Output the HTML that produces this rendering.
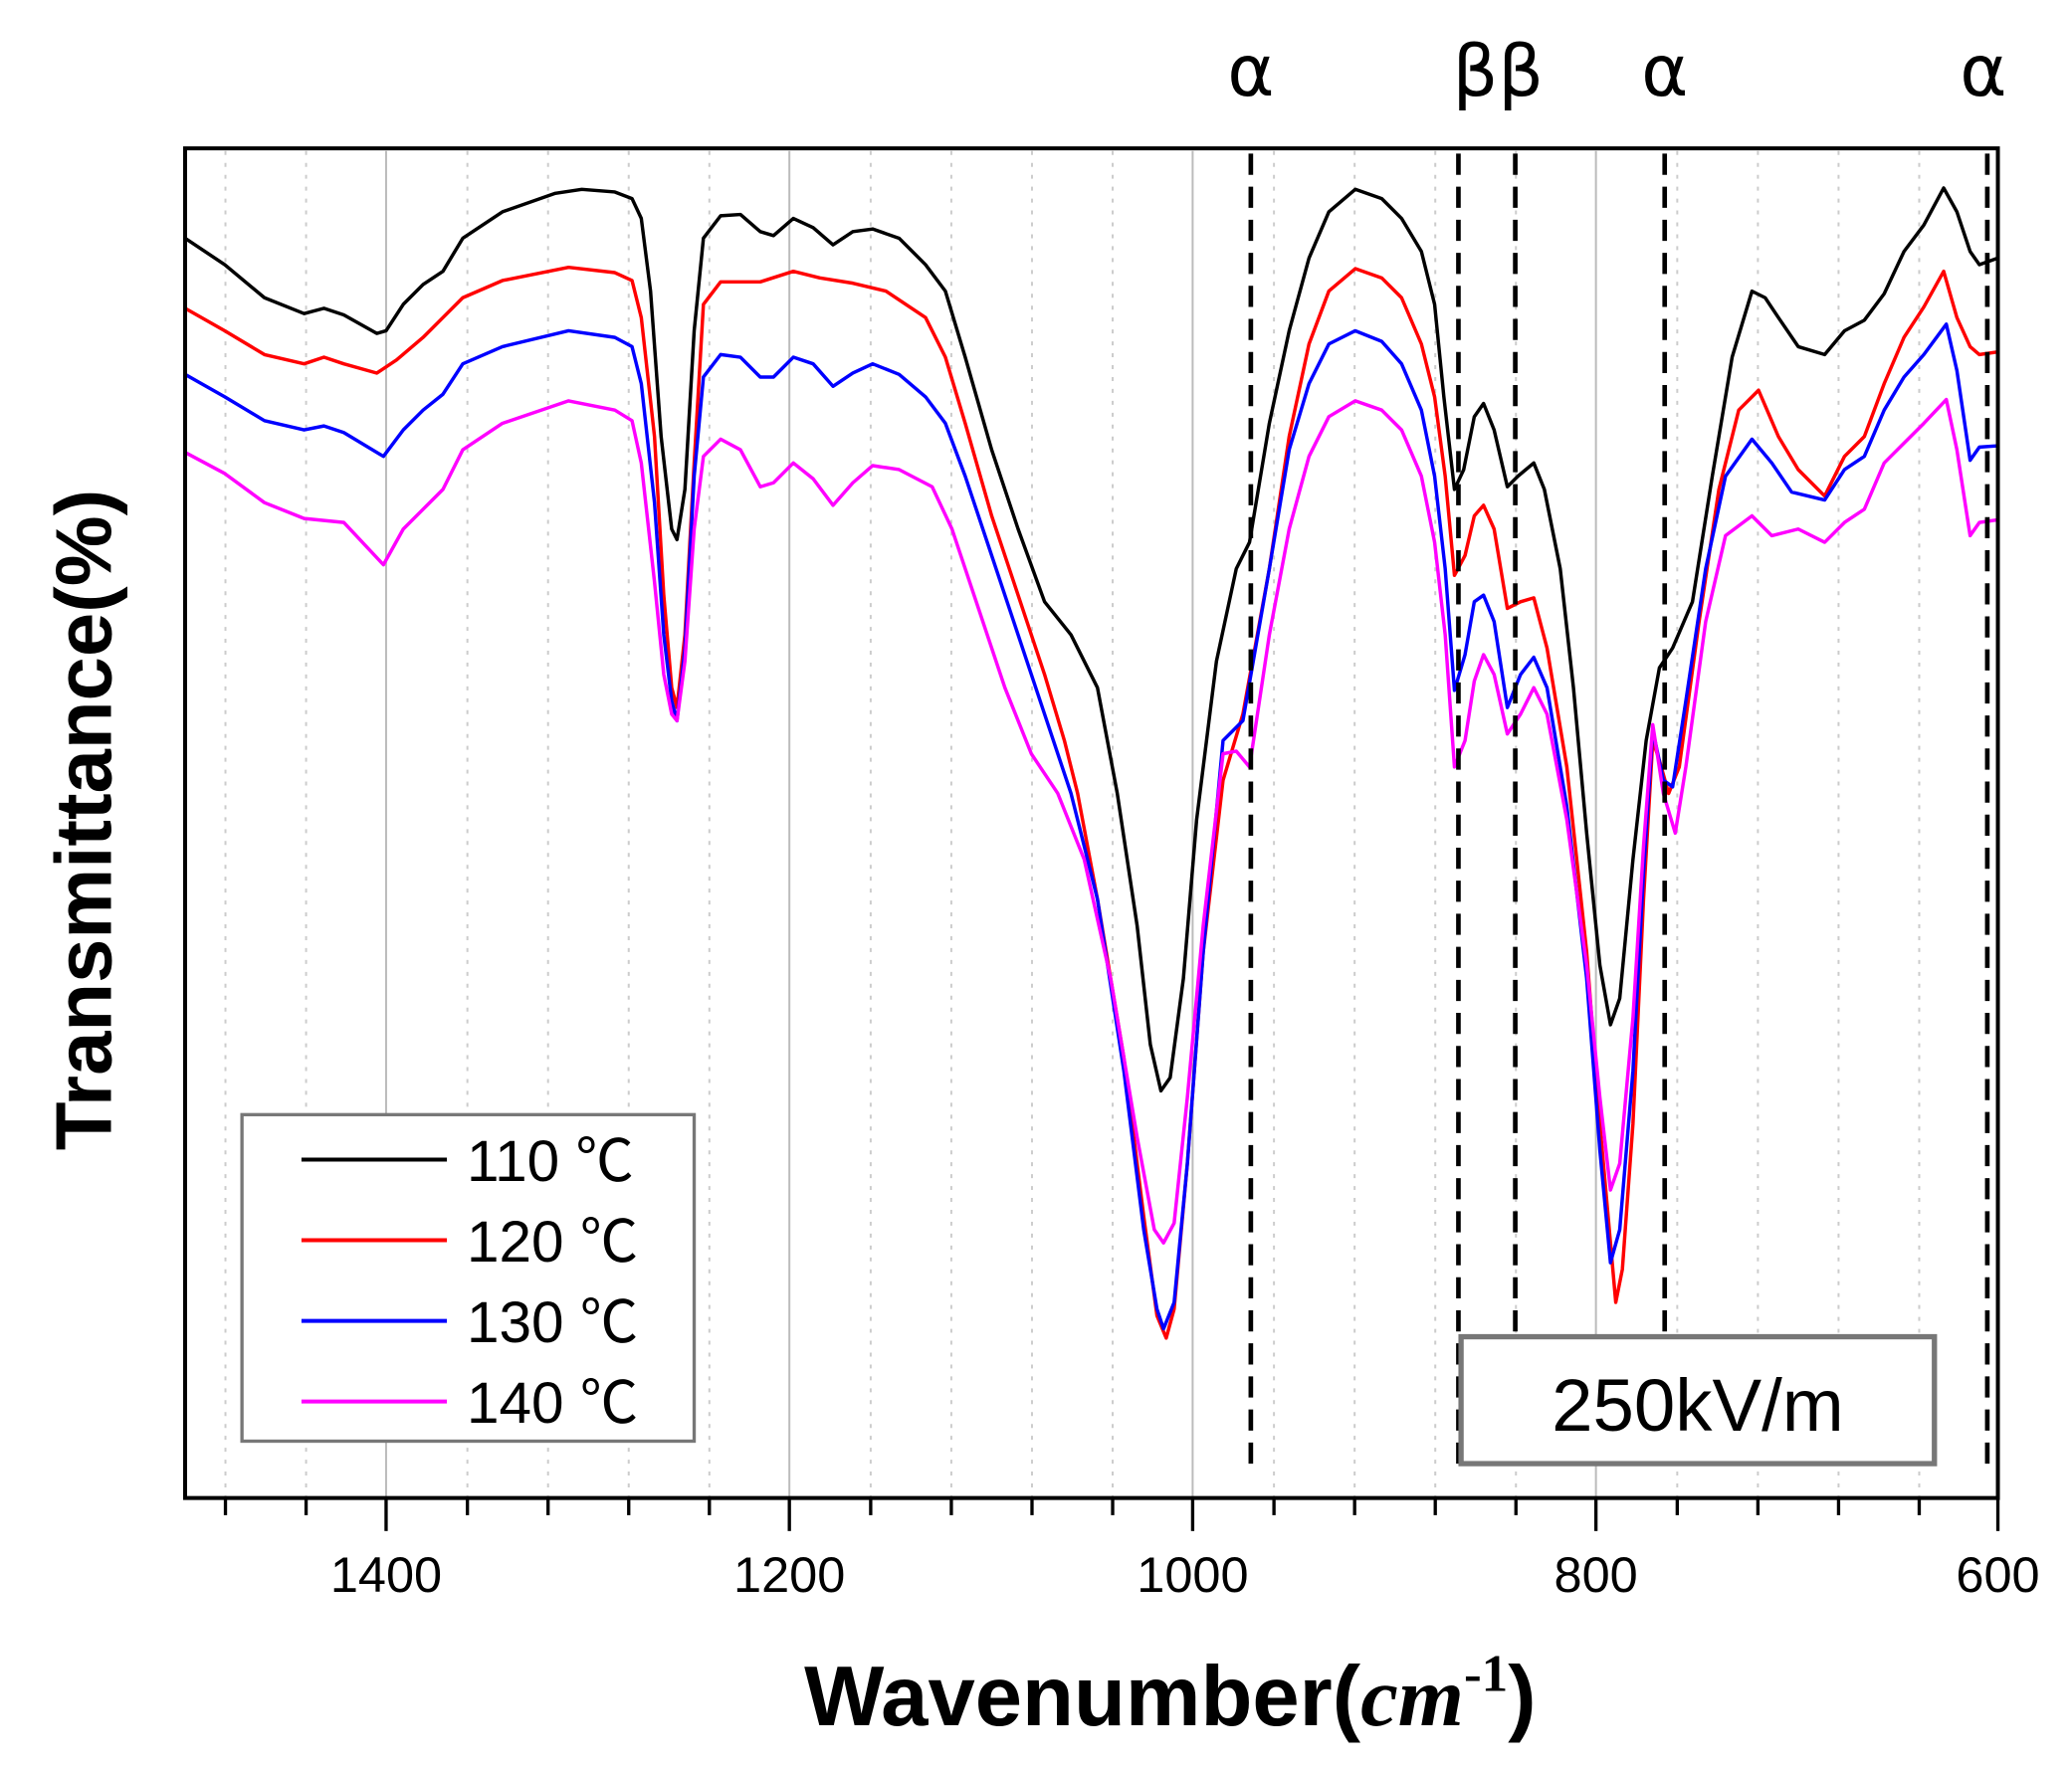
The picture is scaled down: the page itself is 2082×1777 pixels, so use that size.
<!DOCTYPE html>
<html><head><meta charset="utf-8"><style>html,body{margin:0;padding:0;background:#fff}svg{display:block}</style></head>
<body>
<svg width="2082" height="1777" viewBox="0 0 1560 1331" xmlns="http://www.w3.org/2000/svg" font-family="Liberation Sans, DejaVu Sans, sans-serif">
<rect width="1560" height="1331" fill="#fff"/>
<g transform="scale(0.9955)">
<g stroke="#ccc" stroke-width="1.5" stroke-dasharray="3,6">
<line x1="170.5" y1="114" x2="170.5" y2="1132"/><line x1="231.5" y1="114" x2="231.5" y2="1132"/><line x1="353.5" y1="114" x2="353.5" y2="1132"/><line x1="414.5" y1="114" x2="414.5" y2="1132"/><line x1="475.5" y1="114" x2="475.5" y2="1132"/><line x1="536.5" y1="114" x2="536.5" y2="1132"/><line x1="658.5" y1="114" x2="658.5" y2="1132"/><line x1="719.5" y1="114" x2="719.5" y2="1132"/><line x1="780.5" y1="114" x2="780.5" y2="1132"/><line x1="841.5" y1="114" x2="841.5" y2="1132"/><line x1="963.5" y1="114" x2="963.5" y2="1132"/><line x1="1024.5" y1="114" x2="1024.5" y2="1132"/><line x1="1085.5" y1="114" x2="1085.5" y2="1132"/><line x1="1146.5" y1="114" x2="1146.5" y2="1132"/><line x1="1268.5" y1="114" x2="1268.5" y2="1132"/><line x1="1329.5" y1="114" x2="1329.5" y2="1132"/><line x1="1390.5" y1="114" x2="1390.5" y2="1132"/><line x1="1451.5" y1="114" x2="1451.5" y2="1132"/>
</g>
<g stroke="#bbb" stroke-width="1.5">
<line x1="292" y1="114" x2="292" y2="1132"/><line x1="597" y1="114" x2="597" y2="1132"/><line x1="902" y1="114" x2="902" y2="1132"/><line x1="1207" y1="114" x2="1207" y2="1132"/>
</g>
<g fill="none" stroke-width="2.6" stroke-linejoin="round" stroke-linecap="round">
<polyline stroke="#000" points="140,180 170,200 200,225 230,237 245,233 260,238 285,252 292,250 305,230 320,215 335,205 350,180 380,160 420,146 440,143 465,145 478,150 485,165 492,220 500,330 508,400 512,408 518,370 525,250 532,180 545,163 560,162 575,175 585,178 600,165 615,172 630,185 645,175 660,173 680,180 700,200 715,220 730,270 750,340 770,400 790,455 810,480 830,520 845,600 860,700 870,790 878,825 885,815 895,740 905,620 920,500 935,430 945,410 960,320 975,250 990,195 1005,160 1025,143 1045,150 1060,165 1075,190 1085,230 1092,300 1100,370 1107,355 1115,315 1122,305 1130,325 1140,368 1148,360 1160,350 1168,370 1180,430 1190,520 1200,630 1210,730 1218,775 1225,755 1235,650 1245,560 1255,505 1265,490 1280,455 1295,360 1310,270 1325,220 1335,225 1345,240 1360,262 1380,268 1395,250 1410,242 1425,222 1440,190 1455,170 1470,142 1480,160 1490,190 1497,200 1511,195"/>
<polyline stroke="#f00" points="140,233 170,250 200,268 230,275 245,270 260,275 285,282 300,272 320,255 335,240 350,225 380,212 430,202 465,206 478,212 485,240 495,330 502,450 508,520 512,535 518,480 525,350 532,230 545,213 575,213 600,205 620,210 645,214 670,220 700,240 715,270 730,320 750,390 770,450 790,510 805,560 815,600 830,680 850,800 865,920 875,995 882,1012 888,990 898,880 910,720 925,590 940,540 960,430 975,330 990,260 1005,220 1025,203 1045,210 1060,225 1075,260 1085,300 1093,360 1100,435 1108,420 1115,390 1122,382 1130,400 1140,460 1150,455 1160,452 1170,490 1185,580 1200,720 1210,850 1218,940 1222,985 1227,960 1235,850 1243,680 1250,560 1255,575 1262,600 1270,580 1285,470 1300,370 1315,310 1330,295 1345,330 1360,355 1380,375 1395,345 1410,330 1425,290 1440,255 1455,232 1470,205 1480,240 1490,262 1497,268 1511,266"/>
<polyline stroke="#00f" points="140,283 170,300 200,318 230,325 245,322 260,327 290,345 305,325 320,310 335,298 350,275 380,262 430,250 465,255 478,262 485,290 495,380 502,480 508,530 512,545 518,490 525,360 532,285 545,268 560,270 575,285 585,285 600,270 615,275 630,292 645,282 660,275 680,283 700,300 715,320 730,360 750,420 770,480 790,540 810,600 830,680 850,810 865,930 875,990 880,1005 888,985 898,880 910,720 925,560 940,545 960,430 975,340 990,290 1005,260 1025,250 1045,258 1060,275 1075,310 1085,360 1093,430 1100,522 1108,495 1115,455 1122,450 1130,470 1140,535 1150,510 1160,497 1170,520 1185,610 1200,740 1210,870 1218,955 1225,930 1235,810 1243,660 1250,552 1258,590 1265,595 1275,530 1290,430 1305,360 1325,332 1340,350 1355,372 1380,378 1395,355 1410,345 1425,310 1440,285 1455,268 1472,245 1480,280 1490,348 1497,338 1511,337"/>
<polyline stroke="#f0f" points="140,342 170,358 200,380 230,392 260,395 290,427 305,400 320,385 335,370 350,340 380,320 430,303 465,310 478,318 485,350 495,440 502,510 508,540 512,545 518,500 525,400 532,345 545,332 560,340 575,368 585,365 600,350 615,362 630,382 645,365 660,352 680,355 705,368 720,400 740,460 760,520 780,570 800,600 820,650 840,740 860,860 873,930 880,940 888,925 898,830 910,700 925,570 935,568 945,580 960,480 975,400 990,345 1005,315 1025,303 1045,310 1060,325 1075,360 1085,410 1093,480 1100,580 1108,560 1115,515 1122,495 1130,510 1140,555 1150,540 1160,520 1170,540 1185,620 1200,730 1210,830 1218,900 1225,880 1235,770 1243,640 1250,548 1258,600 1267,630 1275,580 1290,470 1305,405 1325,390 1340,405 1360,400 1380,410 1395,395 1410,385 1425,350 1440,335 1455,320 1472,302 1480,340 1490,405 1497,395 1511,393"/>
</g>
<g stroke="#000" stroke-width="3.5" stroke-dasharray="16,9">
<line x1="946" y1="116" x2="946" y2="1115"/><line x1="1103" y1="116" x2="1103" y2="1115"/><line x1="1146" y1="116" x2="1146" y2="1115"/><line x1="1259" y1="116" x2="1259" y2="1115"/><line x1="1503" y1="116" x2="1503" y2="1115"/>
</g>
<rect x="140" y="112" width="1371" height="1021" fill="none" stroke="#000" stroke-width="3"/>
<g stroke="#000" stroke-width="2.5">
<line x1="292" y1="1133" x2="292" y2="1158"/><line x1="597" y1="1133" x2="597" y2="1158"/><line x1="902" y1="1133" x2="902" y2="1158"/><line x1="1207" y1="1133" x2="1207" y2="1158"/><line x1="1511" y1="1133" x2="1511" y2="1158"/>
<line x1="170.5" y1="1133" x2="170.5" y2="1146"/><line x1="231.5" y1="1133" x2="231.5" y2="1146"/><line x1="353.5" y1="1133" x2="353.5" y2="1146"/><line x1="414.5" y1="1133" x2="414.5" y2="1146"/><line x1="475.5" y1="1133" x2="475.5" y2="1146"/><line x1="536.5" y1="1133" x2="536.5" y2="1146"/><line x1="658.5" y1="1133" x2="658.5" y2="1146"/><line x1="719.5" y1="1133" x2="719.5" y2="1146"/><line x1="780.5" y1="1133" x2="780.5" y2="1146"/><line x1="841.5" y1="1133" x2="841.5" y2="1146"/><line x1="963.5" y1="1133" x2="963.5" y2="1146"/><line x1="1024.5" y1="1133" x2="1024.5" y2="1146"/><line x1="1085.5" y1="1133" x2="1085.5" y2="1146"/><line x1="1146.5" y1="1133" x2="1146.5" y2="1146"/><line x1="1268.5" y1="1133" x2="1268.5" y2="1146"/><line x1="1329.5" y1="1133" x2="1329.5" y2="1146"/><line x1="1390.5" y1="1133" x2="1390.5" y2="1146"/><line x1="1451.5" y1="1133" x2="1451.5" y2="1146"/>
</g>
<g font-size="38" text-anchor="middle" fill="#000">
<text x="292" y="1204">1400</text><text x="597" y="1204">1200</text><text x="902" y="1204">1000</text><text x="1207" y="1204">800</text><text x="1511" y="1204">600</text>
</g>
<g font-size="54" text-anchor="middle" fill="#000" font-family="DejaVu Sans, sans-serif">
<text x="946" y="72">α</text><text x="1133" y="72">ββ</text><text x="1259" y="72">α</text><text x="1500" y="72">α</text>
</g>
<rect x="183" y="843" width="342" height="247" fill="#fff" stroke="#777" stroke-width="2.5"/>
<g stroke-width="3">
<line x1="228" y1="877" x2="338" y2="877" stroke="#000"/><line x1="228" y1="938" x2="338" y2="938" stroke="#f00"/><line x1="228" y1="999" x2="338" y2="999" stroke="#00f"/><line x1="228" y1="1060" x2="338" y2="1060" stroke="#f0f"/>
</g>
<g font-size="44" fill="#000" font-family="Liberation Sans, Noto Sans CJK KR, sans-serif">
<text x="353" y="893">110 ℃</text><text x="353" y="954">120 ℃</text><text x="353" y="1015">130 ℃</text><text x="353" y="1076">140 ℃</text>
</g>
<rect x="1105" y="1011" width="358" height="96" fill="#fff" stroke="#777" stroke-width="4"/>
<text x="1284" y="1082" font-size="56" text-anchor="middle" fill="#000">250kV/m</text>
<text transform="translate(84,620) rotate(-90)" font-size="60" font-weight="bold" text-anchor="middle" fill="#000">Transmittance(%)</text>
<text x="885" y="1305" font-size="64" font-weight="bold" text-anchor="middle" fill="#000">Wavenumber(<tspan font-family="Liberation Serif, serif" font-style="italic">cm</tspan><tspan font-family="Liberation Serif, serif" font-size="40" dy="-26">-1</tspan><tspan dy="26">)</tspan></text>
</g>
</svg>
</body></html>
